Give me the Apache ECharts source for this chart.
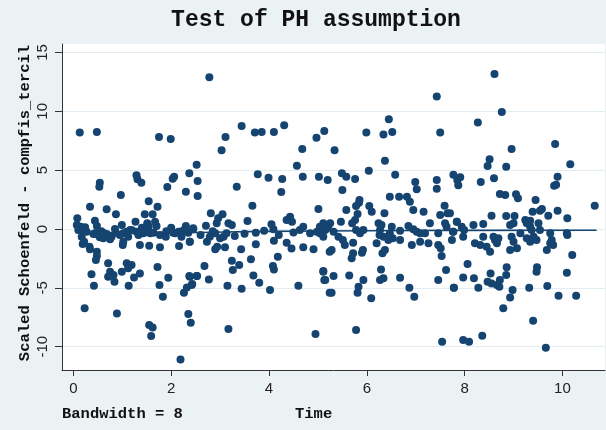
<!DOCTYPE html>
<html>
<head>
<meta charset="utf-8">
<title>Test of PH assumption</title>
<script src="https://cdn.jsdelivr.net/npm/echarts@6/dist/echarts.min.js"></script>
<style>
  html, body { margin: 0; padding: 0; background: #eaf2f4; }
  #chart { width: 606px; height: 430px; }
</style>
</head>
<body>
<div id="chart"></div>
<script>
// tick labels
const xTicks = [0, 2, 4, 6, 8, 10];
const yTicks = [-10, -5, 0, 5, 10, 15];

// scaled Schoenfeld residuals [time, residual]
const residPoints = [
  // t 0 - 2.5, upper
  [0.13, 8.19], [0.48, 8.24], [1.75, 7.82], [1.99, 7.65], [2.52, 5.47], [2.37, 4.73], [2.06, 4.45],
  [2.03, 4.28], [1.29, 4.56], [1.31, 4.22], [1.39, 3.94], [0.54, 3.94], [0.53, 3.6], [1.92, 3.57],
  [2.30, 3.17], [2.54, 4.08], [0.97, 2.89], [2.54, 2.8],
  // t 0 - 2.5, lower
  [0.34, 1.9], [0.68, 1.67], [0.87, 1.25], [1.54, 2.35], [1.72, 1.9], [1.46, 1.25], [1.62, 1.25],
  [1.27, 0.62], [0.99, 0.34], [1.51, 0.48], [1.54, 0.2], [1.67, 0.62], [1.70, 0.25], [0.08, 0.91],
  [0.07, 0.34], [0.15, 0.2], [0.24, 0.14], [0.44, 0.71], [0.48, 0.25], [0.41, -0.42], [2.30, 0.25],
  [2.45, 0.06], [2.18, -0.23], [2.08, -0.37], [2.21, -0.65], [2.38, -1.08], [2.16, -1.44], [0.17, -0.65],
  [0.22, -1.08], [0.19, -1.27], [0.33, -1.5], [0.34, -1.73], [0.48, -1.93], [0.48, -2.29], [0.46, -2.63],
  [0.71, -2.92], [0.75, -3.63], [0.71, -4.05], [0.82, -3.91], [1.09, -2.92], [1.19, -3.06], [1.12, -3.34],
  [0.99, -3.63], [1.36, -3.77], [1.24, -4.11], [0.37, -3.85], [0.42, -4.82], [0.84, -4.48], [1.13, -4.82],
  [1.72, -3.23], [1.94, -4.14], [1.76, -4.76], [1.83, -5.75], [2.37, -3.99], [2.52, -3.99], [2.43, -4.67],
  [2.32, -4.96], [2.26, -5.41], [0.23, -6.74], [0.89, -7.17], [1.55, -8.16], [1.62, -8.36], [1.59, -9.09],
  [2.35, -7.22], [2.40, -7.96], [2.19, -11.08],
  [0.44, -0.37], [0.51, -0.51], [0.54, -0.71], [0.61, -0.31], [0.68, -0.42], [0.75, -0.88], [0.78, -0.65],
  [0.87, -0.31], [0.95, -0.51], [1.02, -0.37], [1.09, -0.23], [1.16, -0.08], [1.12, -0.65], [1.29, -0.23],
  [1.33, -0.51], [1.43, -0.37], [1.50, -0.23], [1.57, -0.37], [1.64, -0.31], [1.77, -0.51], [1.89, -0.65],
  [2.04, -0.31], [2.15, -0.23], [2.26, -0.08], [2.35, -0.31], [1.02, -1.08], [1.01, -1.36], [1.36, -1.36],
  [1.55, -1.42], [1.77, -1.56], [0.61, -0.79], [0.27, -0.23], [0.10, -0.08], [0.20, 0.06], [0.57, -0.2],
  [0.85, 0.0], [1.2, -0.1], [1.4, 0.1], [1.9, -0.2], [2.0, 0.1],
  // t 2.5 - 5.2, upper
  [2.78, 12.89], [3.44, 8.75], [3.11, 7.82], [3.03, 6.69], [3.71, 8.19], [3.85, 8.24], [4.10, 8.24],
  [4.31, 8.81], [4.97, 7.76], [5.13, 8.33], [4.68, 6.80], [4.57, 5.38], [3.34, 3.6], [3.77, 4.65],
  [3.99, 4.36], [4.27, 4.25], [4.25, 3.14], [4.69, 4.45], [5.02, 4.45], [5.20, 4.16],
  // t 2.5 - 5.2, lower
  [3.66, 1.98], [2.81, 1.33], [3.05, 1.25], [3.56, 0.68], [2.71, 0.28], [2.96, 0.91], [2.93, 0.48],
  [3.17, 0.48], [3.24, 0.34], [2.45, -0.03], [4.05, 0.4], [4.09, -0.03], [3.90, -0.14], [3.73, -0.31],
  [4.43, 1.05], [4.47, 0.62], [4.36, 0.76], [5.01, 1.7],
  [4.70, 0.2], [4.63, -0.08], [4.84, -0.37], [4.98, -0.23], [5.08, -0.37], [5.15, -0.08], [2.38, -1.08],
  [2.73, -1.08], [2.79, -0.65], [2.90, -0.37], [3.0, -0.79], [3.07, -0.65], [3.13, -0.37], [2.60, -0.5],
  [2.85, -0.2], [3.3, -0.6], [3.5, -0.4], [4.2, -0.5], [4.5, -0.3],
  [2.90, -1.73], [2.94, -1.5], [3.10, -1.56], [3.43, -1.73], [3.73, -1.3], [4.10, -1.0], [4.36, -1.16],
  [4.46, -1.65], [4.70, -1.56], [4.91, -1.73], [5.24, -1.93],
  [2.68, -3.15], [3.24, -2.69], [3.26, -3.48], [3.39, -3.06], [3.63, -2.58], [3.68, -3.94], [3.80, -4.56],
  [4.08, -3.14], [4.10, -3.43], [4.18, -2.35],
  [2.38, -4.05], [2.53, -4.0], [2.42, -4.76], [2.77, -4.28], [3.15, -4.82], [3.44, -5.07], [4.02, -5.18],
  [4.60, -4.82], [5.11, -3.57], [5.13, -4.33], [5.24, -5.41], [3.17, -8.5], [4.95, -8.92],
  // t 5 - 7.9, upper
  [7.43, 11.25], [6.45, 9.32], [5.99, 8.19], [6.34, 8.02], [6.52, 8.24], [7.50, 8.19], [5.34, 6.69],
  [6.37, 5.81], [6.04, 4.96], [5.49, 4.73], [5.58, 4.45], [5.76, 4.25], [6.58, 4.62], [6.99, 3.99],
  [7.02, 3.37], [7.43, 4.16], [7.43, 3.43], [7.77, 4.62], [7.85, 4.16], [7.87, 3.71], [5.50, 3.31],
  [6.47, 2.75], [6.66, 2.75], [6.82, 2.75], [5.85, 2.46],
  // t 5 - 7.9, lower
  [6.88, 2.32], [6.95, 1.61], [7.16, 1.47], [7.59, 1.98], [7.65, 1.33], [7.50, 1.19], [5.84, 2.24],
  [5.78, 1.95], [5.81, 1.27], [5.76, 0.76], [5.70, 0.48], [6.05, 1.95], [6.10, 1.47], [5.58, 1.61],
  [6.36, 1.33], [5.47, 0.62], [5.25, 0.48], [5.11, 0.48], [5.04, 0.2],
  [6.24, 0.48], [6.30, 0.34], [6.27, -0.08], [6.26, -0.51], [6.34, -0.65], [6.20, -1.22], [6.37, -1.78],
  [6.32, -2.07], [6.51, 0.2], [6.47, -0.37], [6.53, -0.79], [6.44, -0.93], [6.68, -0.14], [6.68, -0.93],
  [6.85, 0.25], [6.95, -0.03], [7.02, -0.23], [7.09, -0.37], [7.19, -0.37], [7.29, 0.48], [7.46, -0.37],
  [7.60, 0.48], [7.63, 0.2], [7.77, -0.23], [7.74, -0.93], [7.84, 0.62],
  [5.21, 0.2], [5.32, -0.23], [5.42, -0.65], [5.51, -0.93], [5.55, -1.36], [5.72, -1.16], [5.86, -0.37],
  [5.93, -0.08], [5.78, -0.08], [5.92, -1.78], [5.90, -2.01], [5.72, -2.07], [5.69, -2.49], [5.04, -0.37],
  [5.11, -0.65], [5.28, -1.78],
  [6.92, -1.36], [7.09, -1.08], [7.26, -1.22], [7.46, -1.36], [7.51, -1.64], [7.53, -2.29],
  [5.11, -3.63], [5.15, -4.33], [5.32, -3.99], [5.64, -3.94], [5.93, -4.33], [6.29, -3.43], [6.27, -4.33],
  [6.34, -4.19], [6.68, -4.14], [6.87, -4.99], [6.97, -5.75], [7.46, -4.33], [7.62, -3.48], [7.78, -4.99],
  [5.28, -5.41], [5.83, -4.9], [5.81, -5.41], [6.09, -5.89], [5.78, -8.58], [7.54, -9.58],
  // t 7.7 - 10.7, upper
  [8.61, 13.17], [8.76, 9.94], [8.27, 9.04], [9.85, 7.22], [8.96, 6.80], [8.51, 5.92], [8.47, 5.35],
  [8.85, 5.30], [10.16, 5.50], [7.91, 4.39], [8.33, 3.99], [8.60, 4.31], [9.90, 4.45], [9.87, 3.77],
  [9.83, 3.68], [8.72, 2.97], [8.83, 2.89], [9.05, 2.95], [9.09, 2.61], [9.45, 2.46],
  // t 7.7 - 10.7, lower
  [10.66, 1.98], [9.54, 1.56], [9.58, 1.7], [9.90, 1.56], [10.10, 0.91], [9.39, 1.47], [9.34, 0.71],
  [8.85, 1.1], [9.02, 1.1], [9.0, 0.48], [8.93, 0.34], [8.55, 1.13], [8.38, 0.42], [8.18, 0.34],
  [9.24, 0.76], [9.27, 0.48], [9.34, 0.2], [9.37, -0.08], [9.51, 0.48], [9.54, -0.08], [9.71, 1.13],
  [7.84, 0.62], [7.94, 0.2], [7.99, -0.08], [7.76, -0.23], [7.70, 1.33],
  [7.97, -0.65], [8.21, -1.22], [8.32, -1.36], [8.38, -0.65], [8.45, -1.5], [8.52, -1.93], [8.59, -0.65],
  [8.62, -0.93], [8.66, -1.22], [8.69, -0.79], [8.93, -1.78], [8.96, -0.65], [9.0, -1.08], [9.07, -1.64],
  [9.14, -0.37], [9.27, -0.79], [9.34, -1.08], [9.41, -0.65], [9.47, -0.93], [9.68, -1.78], [9.75, -1.22],
  [9.78, -0.93], [9.81, -1.36], [9.75, -0.37], [10.09, -0.37], [10.10, -0.51], [10.20, -2.21],
  [8.06, -2.97], [7.97, -4.11], [8.19, -4.19], [8.28, -4.99], [7.78, -4.99],
  [8.53, -3.77], [8.47, -4.48], [8.55, -4.62], [8.66, -4.76], [8.72, -4.33], [8.71, -4.9], [8.86, -3.26],
  [8.85, -3.91], [8.98, -5.18], [8.93, -5.81], [8.79, -6.74],
  [9.48, -3.26], [9.47, -3.63], [9.32, -4.99], [9.69, -4.84], [9.92, -5.67], [10.28, -5.67], [10.09, -3.71],
  [9.40, -7.79], [7.97, -9.43], [8.09, -9.58], [8.36, -9.07], [9.66, -10.08]
];

// smoothed line (bandwidth 8)
const smoothT = [0.05, 2, 4, 6, 8, 10.7];
const smoothR = [-0.3, -0.3, -0.2, -0.15, -0.12, -0.1];

const navy = '#154470';
const monoFont = '"Liberation Mono", "DejaVu Sans Mono", monospace';

let chartDom = document.getElementById('chart');
let myChart = echarts.init(chartDom, null, { renderer: 'canvas' });

let option = {
    backgroundColor: '#eaf2f4',
    animation: false,
    grid: {
        left: 62,
        right: 1,
        top: 44,
        bottom: 60,
        show: true,
        backgroundColor: '#ffffff',
        borderColor: '#ffffff',
        borderWidth: 0
    },
    xAxis: {
        type: 'value',
        min: -0.233,
        max: 10.87,
        axisLine: { show: true, onZero: false, lineStyle: { color: '#333', width: 1 } },
        axisTick: { show: true, customValues: xTicks, length: 6, lineStyle: { color: '#333' } },
        axisLabel: {
            customValues: xTicks,
            color: '#222',
            fontSize: 15,
            fontFamily: '"Liberation Sans", Arial, sans-serif',
            margin: 11
        },
        splitLine: { show: false }
    },
    yAxis: {
        type: 'value',
        min: -11.98,
        max: 15.72,
        axisLine: { show: true, onZero: false, lineStyle: { color: '#333', width: 1 } },
        axisTick: { show: true, customValues: yTicks, length: 7, lineStyle: { color: '#333' } },
        axisLabel: {
            customValues: yTicks,
            rotate: 90,
            color: '#222',
            fontSize: 15,
            fontFamily: '"Liberation Sans", Arial, sans-serif',
            margin: 12
        },
        splitLine: { show: true, lineStyle: { color: '#e1edf3', width: 1 } }
    },
    graphic: [
        {
            type: 'text', x: 316, y: 20,
            style: {
                text: 'Test of PH assumption', font: 'bold 23px ' + monoFont, fill: '#111',
                align: 'center', verticalAlign: 'middle'
            }
        },
        {
            type: 'text', x: 25, y: 203, rotation: Math.PI / 2,
            style: {
                text: 'Scaled Schoenfeld - compfis_tercil', font: 'bold 15.5px ' + monoFont,
                fill: '#111', align: 'center', verticalAlign: 'middle'
            }
        },
        {
            type: 'text', x: 62, y: 414,
            style: { text: 'Bandwidth = 8', font: 'bold 15.5px ' + monoFont, fill: '#111', verticalAlign: 'middle' }
        },
        {
            type: 'text', x: 295, y: 414,
            style: { text: 'Time', font: 'bold 15.5px ' + monoFont, fill: '#111', verticalAlign: 'middle' }
        }
    ],
    series: [
        {
            type: 'scatter',
            data: residPoints,
            symbol: 'circle',
            symbolSize: 8,
            itemStyle: { color: navy, opacity: 1 },
            z: 3
        },
        {
            type: 'line',
            data: smoothT.map((t, i) => [t, smoothR[i]]),
            symbol: 'none',
            smooth: true,
            lineStyle: { color: navy, width: 1.6 },
            z: 4
        }
    ]
};

myChart.setOption(option);
</script>
</body>
</html>
